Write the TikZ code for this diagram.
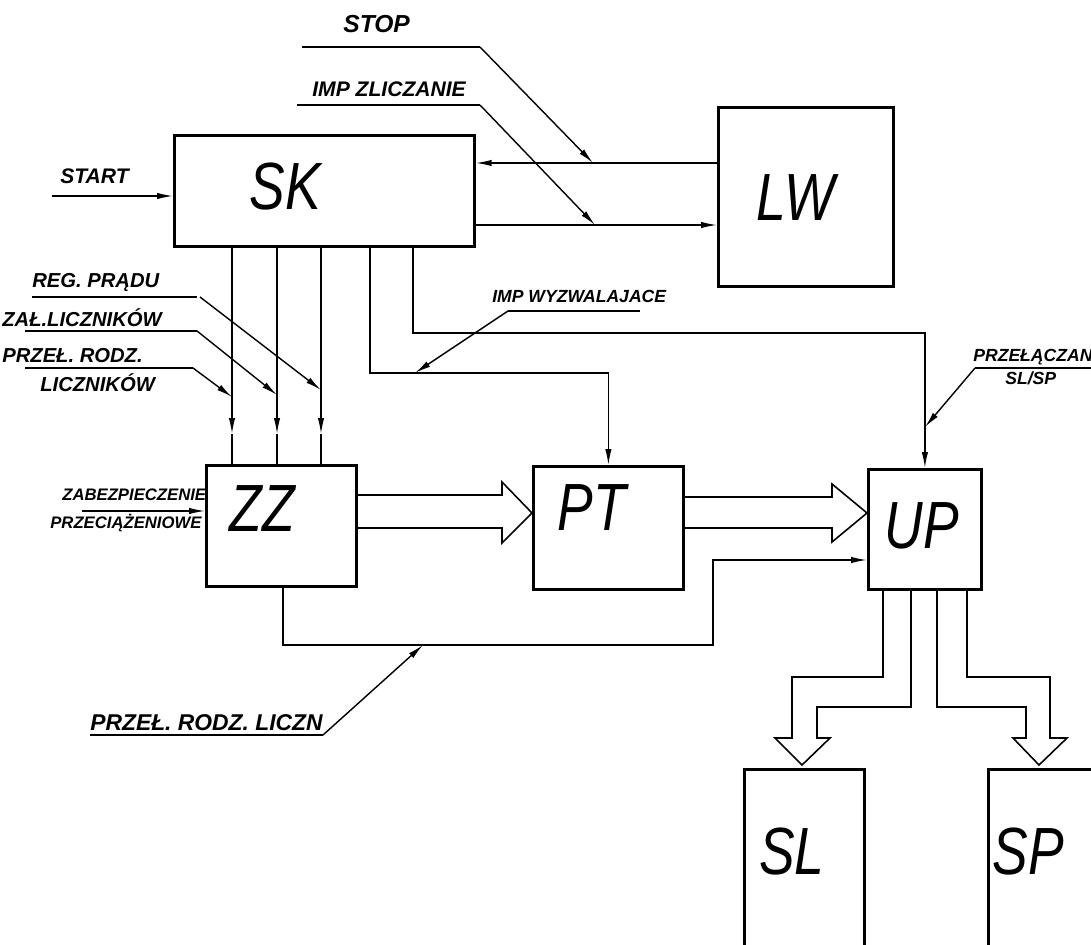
\documentclass[tikz,border=0pt]{standalone}
\usepackage{fontspec}
\newfontfamily\hand{Liberation Sans}
\newfontfamily\bighand{Liberation Sans}[FakeStretch=0.8]
\usetikzlibrary{arrows.meta}
\begin{document}
\begin{tikzpicture}[x=0.02cm,y=-0.02cm,
  box/.style={draw, line width=1.6pt, inner sep=0pt, anchor=north west},
  conn/.style={line width=0.8pt},
  arr/.style={conn, -{Latex[length=9pt,width=3.6pt]}},
  big/.style={font=\bighand\itshape\fontsize{38}{38}\selectfont, inner sep=0pt},
  lab/.style={font=\hand\bfseries\itshape\fontsize{11.5}{12}\selectfont, inner sep=0pt, anchor=base west},
  hollow/.style={line width=0.9pt, line join=miter}]
\useasboundingbox (0,0) rectangle (1091,945);
\clip (0,0) rectangle (1091,945);
% boxes
\node[box, minimum width=6cm, minimum height=2.22cm] (SK) at (173,134) {};
\node[box, minimum width=3.5cm, minimum height=3.58cm] (LW) at (717,106) {};
\node[box, minimum width=3cm, minimum height=2.42cm] (ZZ) at (205,464) {};
\node[box, minimum width=3cm, minimum height=2.46cm] (PT) at (532,465) {};
\node[box, minimum width=2.26cm, minimum height=2.4cm] (UP) at (867,468) {};
\node[box, minimum width=2.4cm, minimum height=4cm] (SL) at (743,768) {};
\node[box, minimum width=2.4cm, minimum height=4cm] (SP) at (987,768) {};
% box letters
\node[big] (tSK) at (285,187) {SK};
\node[big] (tLW) at (796,198) {LW};
\node[big] (tZZ) at (262,509) {ZZ};
\node[big] (tPT) at (592,508) {PT};
\node[big] (tUP) at (922,526) {UP};
\node[big] (tSL) at (792,852) {SL};
\node[big] (tSP) at (1028,852) {SP};
% START
\node[lab, font=\hand\bfseries\itshape\fontsize{12}{12}\selectfont] (lSTART) at (60,184) {START};
\coordinate (st0) at (52,196);
\draw[arr] (st0) -- (st0 -| SK.west);
% LW <-> SK
\coordinate (lwA) at (0,163);
\coordinate (lwB) at (0,225);
\draw[arr] (lwA -| LW.west) -- (lwA -| SK.east);
\draw[arr] (lwB -| SK.east) -- (lwB -| LW.west);
% STOP
\node[lab, font=\hand\bfseries\itshape\fontsize{14}{14}\selectfont] (lSTOP) at (343,33) {STOP};
\coordinate (u1a) at (302,47); \coordinate (u1b) at (480,47);
\draw[conn] (u1a) -- (u1b);
\draw[arr] (u1b) -- (593,163);
% IMP ZLICZANIE
\node[lab, font=\hand\bfseries\itshape\fontsize{12}{12}\selectfont] (lIMPZ) at (312,97) {IMP ZLICZANIE};
\coordinate (u2a) at (297,105); \coordinate (u2b) at (480,105);
\draw[conn] (u2a) -- (u2b);
\draw[arr] (u2b) -- (595,225);
% SK -> ZZ three lines (arrowheads mid-line)
\foreach \xx in {232,277,321}{
  \draw[arr] (\xx,0 |- SK.south) -- (\xx,434);
  \draw[conn] (\xx,434) -- (\xx,0 |- ZZ.north);
}
% left labels
\node[lab] (lREG) at (32,288) {REG. PRĄDU};
\draw[conn] (32,297) -- (197,297);
\draw[arr] (200,297) -- (321,390);
\node[lab] (lZAL) at (2,327) {ZAŁ.LICZNIKÓW};
\draw[conn] (25,331) -- (197,331);
\draw[arr] (197,331) -- (277,395);
\node[lab] (lPRZ) at (2,363) {PRZEŁ. RODZ.};
\node[lab] (lLIC) at (40,392) {LICZNIKÓW};
\draw[conn] (25,368) -- (193,368);
\draw[arr] (193,368) -- (232,397);
% SK -> PT
\coordinate (kPT) at (370,373);
\draw[arr] (kPT |- SK.south) -- (kPT) -- (kPT -| PT.north) -- (PT.north);
% SK -> UP
\coordinate (kUP) at (413,333);
\draw[arr] (kUP |- SK.south) -- (kUP) -- (kUP -| UP.north) -- (UP.north);
% IMP WYZWALAJACE
\node[lab, font=\hand\bfseries\itshape\fontsize{10}{10}\selectfont] (lWYZ) at (492,303) {IMP WYZWALAJACE};
\draw[conn] (508,311) -- (640,311);
\draw[arr] (508,311) -- (415,373);
% PRZELACZAN
\node[lab, font=\hand\bfseries\itshape\fontsize{10}{10}\selectfont] (lPRZL) at (973,362) {PRZEŁĄCZAN};
\node[lab, font=\hand\bfseries\itshape\fontsize{10}{10}\selectfont] (lSLSP) at (1005,385) {SL/SP};
\draw[conn] (975,368) -- (1091,368);
\draw[arr] (975,368) -- (925,427);
% ZABEZPIECZENIE
\node[lab, font=\hand\bfseries\itshape\fontsize{9.5}{10}\selectfont] (lZAB) at (62,500) {ZABEZPIECZENIE};
\node[lab, font=\hand\bfseries\itshape\fontsize{9.5}{10}\selectfont] (lPRC) at (50,528) {PRZECIĄŻENIOWE};
\coordinate (zb) at (82,511);
\draw[arr] (zb) -- (zb -| ZZ.west);
% hollow ZZ -> PT
\draw[hollow] (ZZ.east |- 0,495) -- (502,495) -- (502,482) -- (PT.west |- 0,513) -- (502,543) -- (502,528) -- (ZZ.east |- 0,528);
% hollow PT -> UP
\draw[hollow] (PT.east |- 0,497) -- (832,497) -- (832,484) -- (UP.west |- 0,513) -- (832,542) -- (832,528) -- (PT.east |- 0,528);
% ZZ -> UP feedback
\coordinate (fb1) at (283,645);
\coordinate (fb2) at (713,560);
\draw[arr] (fb1 |- ZZ.south) -- (fb1) -- (fb1 -| fb2) -- (fb2) -- (fb2 -| UP.west);
% PRZEL RODZ LICZN
\node[lab, font=\hand\bfseries\itshape\fontsize{13}{13}\selectfont] (lPRL) at (90,730) {PRZEŁ. RODZ. LICZN};
\draw[conn] (90,735) -- (323,735);
\draw[arr] (323,735) -- (423,645);
% hollow UP -> SL
\draw[hollow] (883,0 |- UP.south) -- (883,677) -- (792,677) -- (792,738) -- (775,738) -- (802,765) -- (830,738) -- (817,738) -- (817,707) -- (911,707) -- (911,0 |- UP.south);
% hollow UP -> SP
\draw[hollow] (967,0 |- UP.south) -- (967,677) -- (1050,677) -- (1050,738) -- (1067,738) -- (1039,765) -- (1013,738) -- (1026,738) -- (1026,707) -- (937,707) -- (937,0 |- UP.south);
\end{tikzpicture}
\end{document}
